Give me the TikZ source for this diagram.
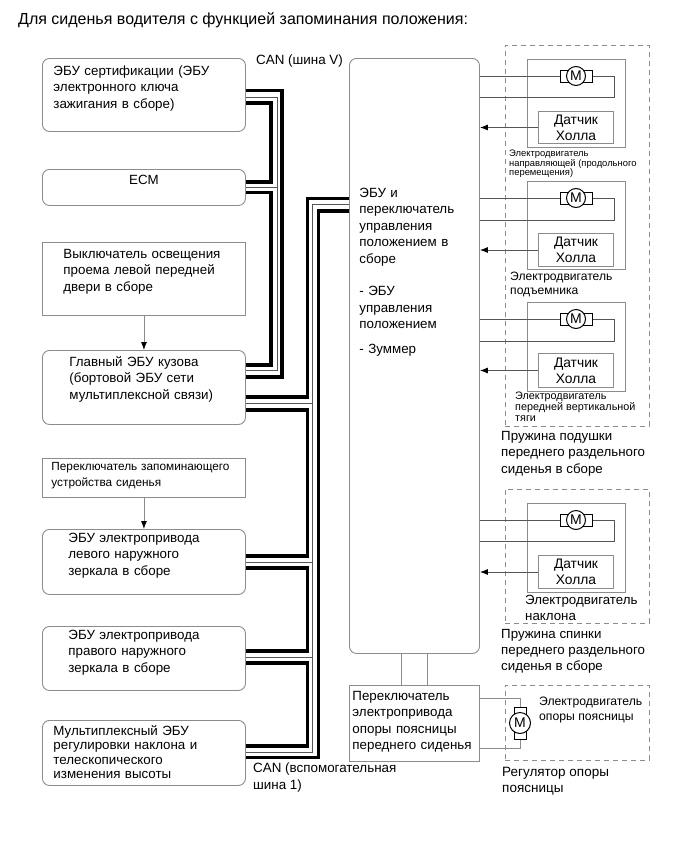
\documentclass[tikz,border=0pt]{standalone}
\usepackage{fontspec}
\setmainfont{Liberation Sans}
\usepackage{color}
\usetikzlibrary{arrows.meta}
\definecolor{boxgray}{HTML}{8C8C8C}
\definecolor{wiregray}{HTML}{555555}
\tikzset{
	>={Latex[length=8pt,width=6pt,black]},
	pad/.style n args={4}{inner xsep=#1pt,text width=#2pt,text height=#3pt,text depth=#4pt},
	swbox/.style={draw=boxgray,line width=0.9pt,anchor=north west,inner ysep=0pt,align=left,minimum width=203pt,font=\fontsize{13.35}{16.4}\selectfont},
	ecubox/.style={swbox,rounded corners=7pt},
	plainbox/.style={draw=boxgray,line width=1pt,anchor=north west,minimum width=#1,inner sep=0pt},
	hallbox/.style={plainbox=75pt,align=center,font=\fontsize{13.8}{16}\selectfont},
	dashbox/.style={draw=boxgray,line width=0.8pt,dash pattern=on 5pt off 4pt,anchor=north west,inner sep=0pt,minimum width=144pt},
	capt/.style 2 args={anchor=north west,inner sep=0pt,align=left,font=\fontsize{#1}{#2}\selectfont},
	motor/.style={circle,draw=black,fill=white,line width=1pt,inner sep=0pt,minimum size=19pt,font=\fontsize{14}{14}\selectfont},
	busblack/.style={line width=3.6pt,black},
	busgray/.style={line width=0.8pt,wiregray},
	wire/.style={line width=0.8pt,wiregray},
}
\begin{document}
\begin{tikzpicture}[x=1pt,y=-1pt]
	\useasboundingbox (0,0) rectangle (690,854);

	\node[capt={16}{18}] (title) at (18,12) {Для сиденья водителя с функцией запоминания положения:};

	% left column
	\node[ecubox,pad={11}{181}{17}{56}] (cert) at (42,58) {ЭБУ сертификации (ЭБУ\\электронного ключа\\зажигания в сборе)};
	\node[ecubox,align=center,pad={11}{181}{15}{21}] (ecm) at (42,169) {ECM};
	\node[swbox,pad={21}{161}{16}{57}] (doorsw) at (42,242) {Выключатель освещения\\проема левой передней\\двери в сборе};
	\node[ecubox,pad={27}{149}{16}{58}] (bodyecu) at (42,350) {Главный ЭБУ кузова\\(бортовой ЭБУ сети\\мультиплексной связи)};
	\node[swbox,pad={9}{185}{12}{27},font=\fontsize{11.8}{15.6}\selectfont] (memsw) at (42,458) {Переключатель запоминающего\\устройства сиденья};
	\node[ecubox,pad={26}{151}{13}{52}] (mirl) at (42,529) {ЭБУ электропривода\\левого наружного\\зеркала в сборе};
	\node[ecubox,pad={26}{151}{13}{51}] (mirr) at (42,626) {ЭБУ электропривода\\правого наружного\\зеркала в сборе};
	\node[ecubox,pad={11}{181}{15}{50},font=\fontsize{13.35}{14.4}\selectfont] (tilt) at (42,720) {Мультиплексный ЭБУ\\регулировки наклона и\\телескопического\\изменения высоты};

	\draw[->,wire,boxgray] (doorsw.south) -- (bodyecu.north);
	\draw[->,wire,boxgray] (memsw.south) -- (mirl.north);

	% centre
	\node[ecubox,minimum width=130pt,pad={10}{110}{139}{456}] (ctrl) at (349,58) {ЭБУ и\\переключатель\\управления\\положением в\\сборе\\[16.4pt]- ЭБУ\\управления\\положением\\[8pt]- Зуммер};
	\node[swbox,minimum width=130pt,pad={3}{124}{15}{61}] (lumsw) at (349,685) {Переключатель\\электропривода\\опоры поясницы\\переднего сиденья};

	\draw[wire,boxgray] (ctrl.south -| 401,0) -- (lumsw.north -| 401,0);
	\draw[wire,boxgray] (ctrl.south -| 427,0) -- (lumsw.north -| 427,0);

	% bus V
	\draw[busblack] (cert.east |- 0,90.5) -| (282,376.7) -- (bodyecu.east |- 0,376.7);
	\draw[busgray] (cert.east |- 0,97) -| (277,370.7) -- (bodyecu.east |- 0,370.7);
	\draw[busblack] (cert.east |- 0,103) -| (271,181.7) -- (ecm.east |- 0,181.7);
	\draw[busgray] (ecm.east |- 0,187) -- (277,187);
	\draw[busblack] (ecm.east |- 0,192.3) -| (271,365) -- (bodyecu.east |- 0,365);

	% bus 1
	\draw[busblack] (ctrl.west |- 0,198.3) -| (307.3,397) -- (bodyecu.east |- 0,397);
	\draw[busgray] (ctrl.west |- 0,204) -| (312.5,752) -- (tilt.east |- 0,752);
	\draw[busblack] (ctrl.west |- 0,210.7) -| (318.3,757.3) -- (tilt.east |- 0,757.3);
	\draw[busblack] (bodyecu.east |- 0,410) -| (307.3,556) -- (mirl.east |- 0,556);
	\draw[busblack] (mirl.east |- 0,568) -| (307.3,651) -- (mirr.east |- 0,651);
	\draw[busblack] (mirr.east |- 0,663) -| (307.3,746) -- (tilt.east |- 0,746);
	\draw[busgray] (bodyecu.east |- 0,403.5) -- (312.5,403.5);
	\draw[busgray] (mirl.east |- 0,562) -- (312.5,562);
	\draw[busgray] (mirr.east |- 0,657) -- (312.5,657);

	\node[capt={13.4}{15}] (canv) at (256,55) {CAN (шина V)};
	\node[capt={13.4}{16.4}] (canaux) at (253,763) {CAN (вспомогательная\\шина 1)};

	% seat groups
	\node[dashbox,minimum height=381pt] (cushion) at (505,45) {};
	\node[dashbox,minimum height=134pt] (back) at (505,489) {};
	\node[dashbox,minimum height=75pt] (lumbar) at (505,685) {};

	\foreach \i/\ytop/\ybot/\ymot/\ywire/\hallt/\hallb in {1/59/147/76/97/111/143,2/181/269/198/220/233/266,3/302/391/319/341/353/387,4/503/592/520/541/555/588}{
		\node[plainbox=98pt,minimum height={(\ybot-\ytop)*1pt}] (seat\i) at (527,\ytop) {};
		\node[hallbox,minimum height={(\hallb-\hallt)*1pt}] (hall\i) at (538,\hallt) {Датчик\\Холла};
		\coordinate (mot\i) at (576,\ymot);
		\coordinate (ret\i) at (576,\ywire);
		\draw[wire] (ctrl.east |- mot\i) -- (hall\i.east |- mot\i) -- (hall\i.east |- ret\i) -- (ctrl.east |- ret\i);
		\draw[->,wire] (hall\i.west) -- (ctrl.east |- hall\i.west);
		\draw[line width=1pt,fill=white,shift={(mot\i)}] (-16,-6) rectangle (16,6);
		\node[motor] (motor\i) at (mot\i) {M};
	}

	\node[capt={9.4}{9.6}] (capt1) at (509,150) {Электродвигатель\\направляющей (продольного\\перемещения)};
	\node[capt={12.1}{14}] (capt2) at (510,272) {Электродвигатель\\подъемника};
	\node[capt={10.8}{11}] (capt3) at (515,392) {Электродвигатель\\передней вертикальной\\тяги};
	\node[capt={13.3}{15.7}] (capt4) at (525,595) {Электродвигатель\\наклона};
	\node[capt={13.3}{16.4}] (spr1) at (501,431) {Пружина подушки\\переднего раздельного\\сиденья в сборе};
	\node[capt={13.3}{16}] (spr2) at (501,629) {Пружина спинки\\переднего раздельного\\сиденья в сборе};

	% lumbar motor
	\coordinate (lummot) at (520,723);
	\draw[wire,boxgray] (lumsw.east |- 0,698) -| (lummot) |- (lumsw.east |- 0,748);
	\draw[line width=1pt,fill=white,shift={(lummot)}] (-6,-16) rectangle (6,16);
	\node[motor,minimum size=21pt] (motor5) at (lummot) {M};
	\node[capt={12.2}{15}] (capt5) at (539,697) {Электродвигатель\\опоры поясницы};
	\node[capt={13.5}{16}] (capt6) at (502,767) {Регулятор опоры\\поясницы};
\end{tikzpicture}
\end{document}
